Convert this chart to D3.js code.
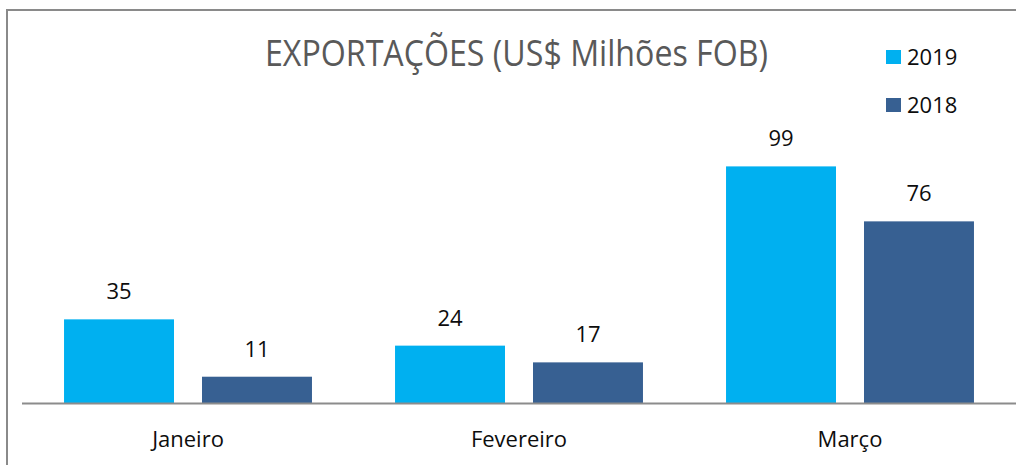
<!DOCTYPE html>
<html>
<head>
<meta charset="utf-8">
<script src="https://cdn.jsdelivr.net/npm/d3@7"></script>
<style>
  html, body { margin: 0; padding: 0; background: #fff; }
  svg { display: block; }
  text { font-family: "Open Sans", "Noto Sans", sans-serif; }
</style>
</head>
<body>
<svg id="chart" width="1016" height="465"></svg>
<script>
const categories = ["Janeiro", "Fevereiro", "Março"];
const seriesNames = ["2019", "2018"];
const values2019 = [35, 24, 99];
const values2018 = [11, 17, 76];
const seriesColors = ["#00B0F0", "#376092"];
const titleText = "EXPORTAÇÕES (US$ Milhões FOB)";

const seriesValues = [values2019, values2018];
const rows = categories.map((c, i) => ({
  cat: c,
  vals: seriesNames.map((s, j) => ({ key: s, value: seriesValues[j][i], color: seriesColors[j] }))
}));

const W = 1016, H = 465;
const svg = d3.select("#chart");
const baseY = 403;

// frame
svg.append("path")
  .attr("d", `M7,${H} L7,10 L${W},10`)
  .attr("fill", "none")
  .attr("stroke", "#8a8a8a")
  .attr("stroke-width", 2);

const x0 = d3.scaleBand().domain(categories).range([22.5, 1015.5]).padding(0);
const x1 = d3.scaleBand().domain(seriesNames).range([0, x0.bandwidth()])
  .paddingInner(0.203).paddingOuter(0.301);
const y = d3.scaleLinear().domain([0, 120]).range([baseY, baseY - 120 * 2.39]);

// bars
const g = svg.append("g");
const groups = g.selectAll("g.cat").data(rows).join("g")
  .attr("class", "cat")
  .attr("transform", d => `translate(${x0(d.cat)},0)`);

groups.selectAll("rect").data(d => d.vals).join("rect")
  .attr("x", d => x1(d.key))
  .attr("y", d => y(d.value))
  .attr("width", x1.bandwidth())
  .attr("height", d => y(0) - y(d.value))
  .attr("fill", d => d.color);

groups.selectAll("text.val").data(d => d.vals).join("text")
  .attr("class", "val")
  .attr("x", d => x1(d.key) + x1.bandwidth() / 2)
  .attr("y", d => y(d.value) - 20)
  .attr("text-anchor", "middle")
  .attr("font-size", 22)
  .attr("fill", "#0d0d0d")
  .text(d => d.value);

// x axis
const xAxis = d3.axisBottom(x0).tickSize(0).tickPadding(0);
const ax = svg.append("g").attr("transform", `translate(0,${baseY})`).call(xAxis);
ax.select(".domain").remove();
ax.selectAll("text")
  .attr("dy", 0)
  .attr("y", 44)
  .attr("font-size", 22)
  .attr("font-family", "'Open Sans', 'Noto Sans', sans-serif")
  .attr("fill", "#0d0d0d");
svg.append("line")
  .attr("x1", 22).attr("x2", W)
  .attr("y1", baseY + 0.5).attr("y2", baseY + 0.5)
  .attr("stroke", "#8c8c8c")
  .attr("stroke-width", 2);

// title
svg.append("text")
  .attr("x", 265)
  .attr("y", 66)
  .attr("font-size", 36)
  .attr("fill", "#595959")
  .attr("textLength", 503)
  .attr("lengthAdjust", "spacingAndGlyphs")
  .text(titleText);

// legend
const legend = svg.append("g");
const leg = legend.selectAll("g").data(seriesNames).join("g")
  .attr("transform", (d, i) => `translate(886,${50 + i * 48})`);
leg.append("rect")
  .attr("width", 15).attr("height", 14)
  .attr("fill", (d, i) => seriesColors[i]);
leg.append("text")
  .attr("x", 21).attr("y", 15)
  .attr("font-size", 22)
  .attr("fill", "#0d0d0d")
  .text(d => d);
</script>
</body>
</html>
